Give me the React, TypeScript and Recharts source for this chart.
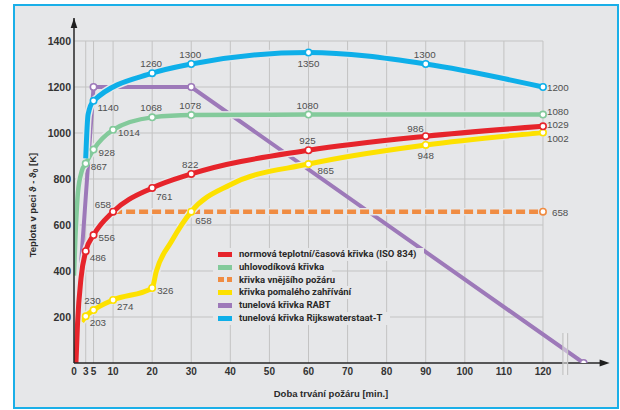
import React from 'react';
import { LineChart, Line, XAxis, YAxis, ReferenceLine, ReferenceDot, ReferenceArea, Label } from 'recharts';

const FONT = '"Liberation Sans", Arial, sans-serif';
const BG = '#e6e7e9';

// x axis: minutes; the last purple point (140 min) sits past the axis break
const X_MAX = 135;
const Y_MAX = 1500;
const RABT_END = 130.4;

const xTicks = [0, 3, 5, 10, 20, 30, 40, 50, 60, 70, 80, 90, 100, 110, 120];
const xGrid = [3, 5, 10, 20, 30, 40, 50, 60, 70, 80, 90, 100, 110, 120];
const yTicks = [200, 400, 600, 800, 1000, 1200, 1400];

// normová teplotní/časová křivka (ISO 834)
const isoT = [0.5, 0.9, 1.8, 3, 5, 10, 20, 30, 60, 90, 120];
const isoV = [0, 170, 370, 486, 556, 658, 761, 822, 925, 986, 1029];
const isoMarks = [3, 5, 10, 20, 30, 60, 90, 120];

// uhlovodíková křivka
const hcT = [0, 0.3, 1, 2, 3, 5, 10, 20, 30, 60, 120];
const hcV = [380, 520, 740, 835, 867, 928, 1014, 1068, 1078, 1080, 1080];
const hcMarks = [3, 5, 10, 20, 30, 60, 120];

// křivka vnějšího požáru
const extT = [10, 120];
const extV = [658, 658];
const extMarks = [120];

// křivka pomalého zahřívání
const slowT = [2, 3, 5, 10, 20, 21, 25, 30, 40, 60, 90, 120];
const slowV = [180, 203, 230, 274, 326, 395, 530, 658, 775, 865, 948, 1002];
const slowMarks = [3, 5, 10, 20, 30, 60, 90, 120];

// tunelová křivka RABT
const rabtT = [0, 5, 30, RABT_END];
const rabtV = [0, 1200, 1200, 0];
const rabtMarks = [5, 30, RABT_END];

// tunelová křivka Rijkswaterstaat-T
const rwsT = [3, 3.6, 5, 20, 30, 60, 90, 120];
const rwsV = [890, 1080, 1140, 1260, 1300, 1350, 1300, 1200];
const rwsMarks = [5, 20, 30, 60, 90, 120];

// label placement codes for the marked points
const isoPos = ['rb', 'rl', 'al', 'rbb', 'a', 'a', 'al', 'ru'];
const hcPos = ['rl', 'rl', 'rl', 'a', 'a', 'a', 'rt'];
const extPos = ['rr'];
const slowPos = ['rb', 'a', 'rb', 'rl', 'rbb', 'rbf', 'b', 'rd'];
const rwsPos = ['rb', 'a', 'a', 'b', 'a', 'r'];

const PLACE: Record<string, { anchor: string; dx: number; dy: number }> = {
  r: { anchor: 'start', dx: 4, dy: 3.5 },
  rt: { anchor: 'start', dx: 4, dy: 0.5 },
  ru: { anchor: 'start', dx: 4, dy: 2 },
  rd: { anchor: 'start', dx: 4, dy: 9.5 },
  rl: { anchor: 'start', dx: 5, dy: 6 },
  rb: { anchor: 'start', dx: 4, dy: 10 },
  rbb: { anchor: 'start', dx: 4, dy: 12 },
  rbf: { anchor: 'start', dx: 9, dy: 10 },
  rr: { anchor: 'start', dx: 9, dy: 4 },
  a: { anchor: 'middle', dx: -1, dy: -6 },
  al: { anchor: 'end', dx: -2, dy: -4 },
  b: { anchor: 'middle', dx: 0, dy: 14 },
};

const COLORS = {
  red: '#e6242b',
  green: '#83ca9b',
  orange: '#f08c42',
  yellow: '#fde100',
  purple: '#9d79b9',
  blue: '#0eafe9',
};

const legendItems = [
  { name: 'normová teplotní/časová křivka (ISO 834)', color: COLORS.red },
  { name: 'uhlovodíková křivka', color: COLORS.green },
  { name: 'křivka vnějšího požáru', color: COLORS.orange, dashed: true },
  { name: 'křivka pomalého zahřívání', color: COLORS.yellow },
  { name: 'tunelová křivka RABT', color: COLORS.purple },
  { name: 'tunelová křivka Rijkswaterstaat-T', color: COLORS.blue },
];

const rows = (ts: number[], vs: number[]) => ts.map((t, i) => ({ t, v: vs[i] }));

const makeDot = (color: string, marks: number[], pos?: string[]) => (props: any) => {
  const { cx, cy, payload, index } = props;
  const k = marks.indexOf(payload.t);
  if (k < 0 || cx == null) return <g key={`d${index}`} />;
  const p = pos ? PLACE[pos[k]] : null;
  return (
    <g key={`d${index}`}>
      <circle cx={cx} cy={cy} r={3.2} fill="#fff" stroke={color} strokeWidth={1.6} />
      {p && (
        <text x={cx + p.dx} y={cy + p.dy} textAnchor={p.anchor as any} fontSize={9.8} fill="#505050" fontFamily={FONT}>
          {payload.v}
        </text>
      )}
    </g>
  );
};

const series = [
  { key: 'rabt', data: rows(rabtT, rabtV), color: COLORS.purple, w: 4, marks: rabtMarks, type: 'linear', halo: false },
  { key: 'ext', data: rows(extT, extV), color: COLORS.orange, w: 4.5, marks: extMarks, pos: extPos, type: 'linear', dash: '9 4', halo: true },
  { key: 'hc', data: rows(hcT, hcV), color: COLORS.green, w: 4.5, marks: hcMarks, pos: hcPos, type: 'monotone', halo: true },
  { key: 'slow', data: rows(slowT, slowV), color: COLORS.yellow, w: 5, marks: slowMarks, pos: slowPos, type: 'monotone', halo: true },
  { key: 'iso', data: rows(isoT, isoV), color: COLORS.red, w: 5, marks: isoMarks, pos: isoPos, type: 'monotone', halo: true },
  { key: 'rws', data: rows(rwsT, rwsV), color: COLORS.blue, w: 5, marks: rwsMarks, pos: rwsPos, type: 'monotone', halo: true },
];

const Legend6 = () => (
  <div style={{ position: 'absolute', left: 213, top: 248, fontFamily: 'Roboto, "Liberation Sans", Arial, sans-serif' }}>
    {legendItems.map((it) => (
      <div key={it.name} style={{ height: 12.8, display: 'flex' }}>
        <div style={{ display: 'flex', alignItems: 'center', background: BG, padding: '0 8px 0 5px' }}>
          {it.dashed ? (
            <div style={{ display: 'flex', width: 14, gap: 3 }}>
              <div style={{ width: 5.5, height: 5, background: it.color }} />
              <div style={{ width: 5.5, height: 5, background: it.color }} />
            </div>
          ) : (
            <div style={{ width: 14, height: 5, background: it.color }} />
          )}
          <span style={{ marginLeft: 7, fontSize: 9.5, fontWeight: 700, color: '#2a2a2a', lineHeight: '12.8px', whiteSpace: 'nowrap' }}>
            {it.name}
          </span>
        </div>
      </div>
    ))}
  </div>
);

export default function App() {
  return (
    <div style={{ position: 'absolute', left: 0, top: 0, width: 620, height: 410, background: '#fff' }}>
      <div
        style={{
          position: 'absolute', left: 13, top: 4, width: 606, height: 405, boxSizing: 'border-box',
          border: '2px solid #1aafe8', background: BG,
        }}
      />
      <div style={{ position: 'absolute', left: 0, top: 0 }}>
        <LineChart width={620} height={410} margin={{ top: 18, right: 18.4, left: 14, bottom: 17 }}>
          {xGrid.map((t) => (
            <ReferenceLine key={`gx${t}`} segment={[{ x: t, y: 0 }, { x: t, y: 1400 }]} stroke="#c3c3c3" strokeWidth={1} zIndex={-50} />
          ))}
          {yTicks.map((v) => (
            <ReferenceLine key={`gy${v}`} segment={[{ x: 0, y: v }, { x: 120, y: v }]} stroke="#c3c3c3" strokeWidth={1} zIndex={-50} />
          ))}
          <XAxis
            type="number"
            dataKey="t"
            domain={[0, X_MAX]}
            ticks={xTicks}
            interval={0}
            allowDataOverflow
            tickLine={false}
            tickSize={0}
            tickMargin={5}
            height={30}
            axisLine={{ stroke: '#262626', strokeWidth: 1.5 }}
            tick={{ fontSize: 10, fontWeight: 700, fill: '#333', fontFamily: FONT }}
          >
            <Label
              content={() => (
                <text x={331} y={397} textAnchor="middle" fontSize={9.5} fontWeight={700} fill="#2a2a2a" fontFamily={FONT}>
                  Doba trvání požáru [min.]
                </text>
              )}
            />
          </XAxis>
          <YAxis
            type="number"
            domain={[0, Y_MAX]}
            ticks={yTicks}
            interval={0}
            allowDataOverflow
            width={60}
            tickLine={false}
            tickSize={0}
            tickMargin={3}
            axisLine={{ stroke: '#262626', strokeWidth: 1.5 }}
            tick={{ fontSize: 10.5, fontWeight: 700, fill: '#333', fontFamily: FONT }}
          >
            <Label
              content={() => (
                <text
                  x={32}
                  y={205}
                  transform="rotate(-90 32 205)"
                  textAnchor="middle"
                  dominantBaseline="central"
                  fontSize={9.5}
                  fontWeight={700}
                  fill="#2a2a2a"
                  fontFamily={FONT}
                >
                  Teplota v peci ϑ - ϑ<tspan fontSize={7} dy={3}>0</tspan>
                  <tspan dy={-3}> [K]</tspan>
                </text>
              )}
            />
          </YAxis>

          {series.flatMap((s) => [
            s.halo ? (
              <Line
                key={`${s.key}-h`}
                data={s.data}
                dataKey="v"
                type={s.type as any}
                stroke={BG}
                strokeWidth={s.w + 3}
                dot={false}
                activeDot={false}
                isAnimationActive={false}
              />
            ) : null,
            <Line
              key={s.key}
              data={s.data}
              dataKey="v"
              type={s.type as any}
              stroke={s.color}
              strokeWidth={s.w}
              strokeDasharray={s.dash}
              dot={makeDot(s.color, s.marks, s.pos)}
              activeDot={false}
              isAnimationActive={false}
            />,
          ])}

          {/* axis break */}
          <ReferenceArea x1={125.1} x2={126.3} y1={-52} y2={130} ifOverflow="visible" fill="#f0f0f0" stroke="none" zIndex={900} />
          <ReferenceLine segment={[{ x: 125.1, y: -52 }, { x: 125.1, y: 130 }]} ifOverflow="visible" stroke="#c4c4c4" strokeWidth={1.2} zIndex={901} />
          <ReferenceLine segment={[{ x: 126.3, y: -52 }, { x: 126.3, y: 130 }]} ifOverflow="visible" stroke="#c4c4c4" strokeWidth={1.2} zIndex={901} />

          {/* axis arrows */}
          <ReferenceDot
            x={X_MAX}
            y={0}
            r={0}
            ifOverflow="visible"
            zIndex={902}
            shape={(p: any) => <path d={`M${p.cx - 2},${p.cy - 3.5}L${p.cx + 8},${p.cy}L${p.cx - 2},${p.cy + 3.5}Z`} fill="#1e1e1e" />}
          />
          <ReferenceDot
            x={0}
            y={Y_MAX}
            r={0}
            ifOverflow="visible"
            zIndex={902}
            shape={(p: any) => <path d={`M${p.cx - 3.3},${p.cy + 10}L${p.cx},${p.cy}L${p.cx + 3.3},${p.cy + 10}Z`} fill="#1e1e1e" />}
          />
        </LineChart>
      </div>
      <Legend6 />
    </div>
  );
}
